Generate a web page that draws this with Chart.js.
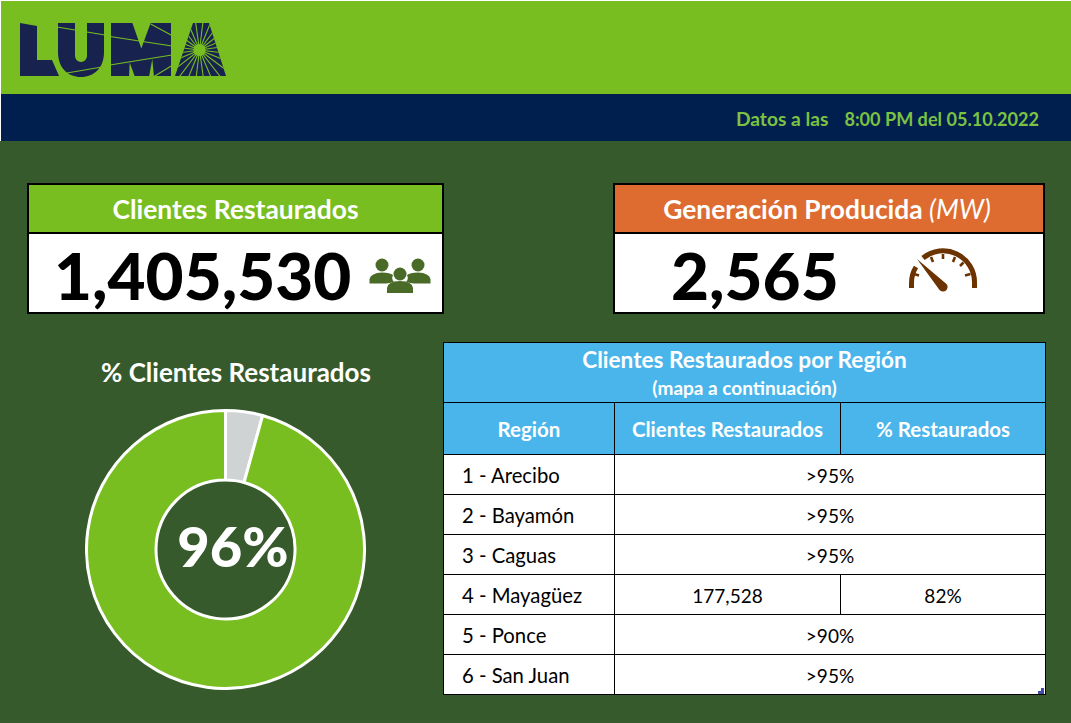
<!DOCTYPE html>
<html lang="es">
<head>
<meta charset="utf-8">
<title>LUMA - Clientes Restaurados</title>
<script src="https://cdn.jsdelivr.net/npm/chart.js@4"></script>
<style>
  html, body { margin: 0; padding: 0; background: #375a2c; }
  body { position: relative; width: 1071px; height: 723px; overflow: hidden; font-family: Lato, "Open Sans", sans-serif; font-weight: 700; }
  .abs { position: absolute; box-sizing: border-box; }
  #top { left: 0; top: 0; width: 1071px; height: 94px; background: #78be20; border: solid #fff; border-width: 1px 0 0 1px; }
  #navy { left: 0; top: 94px; width: 1071px; height: 47px; background: #001f4e; border-left: 1px solid #fff; }
  #fecha { right: 32px; top: 107px; color: #7cc242; font-size: 19.2px; white-space: pre; }
  #fecha span { font-size: 18.1px; margin-left: 16px; }
  .kpi { border: 2px solid #000; background: #fff; top: 183px; height: 131px; }
  .kpi .head { position: absolute; left: 0; right: 0; top: 0; height: 47px; border-bottom: 2px solid #000; color: #fff; font-size: 26.4px; line-height: 48px; text-align: center; }
  .kpi .num { position: absolute; top: 50px; color: #000; font-size: 65.6px; font-weight: 900; line-height: 80px; }
  #tit { left: 60px; width: 352px; top: 356px; color: #fff; font-size: 26px; line-height: 32px; text-align: center; }
  #wrap { left: 85px; top: 409px; width: 281px; height: 281px; }
  #centro { left: 77px; width: 312px; top: 512px; color: #fff; font-size: 56px; font-weight: 900; line-height: 68px; text-align: center; }
  table { left: 443px; top: 342px; width: 602px; height: 353px; border-collapse: collapse; table-layout: fixed; background: #fff; font-size: 19px; font-weight: 400; color: #000; }
  td, th { border: 1px solid #000; padding: 0; text-align: center; }
  td { padding-top: 1px; }
  th { background: #4ab5ea; color: #fff; font-weight: 700; font-size: 20.5px; }
  th.sup { font-size: 22.6px; line-height: 28px; padding-top: 3px; }
  th small { display: block; font-size: 19px; line-height: 28px; }
  td.reg { text-align: left; padding-left: 18px; font-size: 20.3px; }
  #deco { left: 0; top: 0; pointer-events: none; }
</style>
</head>
<body>
<div class="abs" id="top"></div>
<div class="abs" id="navy"></div>
<div class="abs" id="fecha">Datos a las<span>8:00 PM del 05.10.2022</span></div>

<div class="abs kpi" style="left:27px;width:417px">
  <div class="head" style="background:#78be20">Clientes Restaurados</div>
  <div class="num" style="left:25px" id="num1"></div>
</div>
<div class="abs kpi" style="left:613px;width:432px">
  <div class="head" style="background:#de6b2f;padding-right:4px">Generación Producida <i style="font-weight:400">(MW)</i></div>
  <div class="num" style="left:56px" id="num2"></div>
</div>

<div class="abs" id="tit">% Clientes Restaurados</div>
<div class="abs" id="wrap"><canvas id="dona" width="281" height="281"></canvas></div>
<div class="abs" id="centro"></div>

<table class="abs" id="tabla"></table>

<!-- logo e iconos, en coordenadas de la página -->
<svg class="abs" id="deco" width="1071" height="723" viewBox="0 0 1071 723">
  <defs>
    <clipPath id="letraA"><path d="M193 23 H209 L226 76 H175 Z"/></clipPath>
  </defs>
  <g fill="#17224f">
    <path d="M20 23 L37 26 L37 60 L52 60 L59 76 L20 76 Z"/>
    <path d="M58 23 H75 V56 A6 6 0 0 0 87 56 V23 H104 V52 C104 68 94 77 81 77 C68 77 58 68 58 52 Z"/>
    <path d="M111 23 H171 V76 H111 Z"/>
    <path d="M193 23 H209 L226 76 H175 Z"/>
  </g>
  <g stroke="#78be20" stroke-width="1.1" fill="none">
    <path d="M57 27 L105 35 M67 73 L102 67"/>
    <path d="M110 36.5 L172 46 M110 65 L172 55 M150.7 24 L172 35.5 M154 76.5 L172 65.5"/>
    <g id="rayos" clip-path="url(#letraA)"></g>
  </g>
  <path fill="#78be20" d="M132 22 L141.3 48.5 L151 22 Z M129.7 62.5 L129 77 L135 77 Z M152.3 59 L149 77 L154 77 Z"/>
  <circle cx="199.5" cy="50" r="6" fill="#78be20"/>

  <g fill="#4a6b28">
    <circle cx="382" cy="265" r="6.5"/><circle cx="418" cy="265" r="6.5"/><circle cx="400" cy="274" r="6.5"/>
    <path d="M369.5 283.5 V279 Q371 273 382 272.5 Q390 272.5 393 275 Q391 279 394 282 Q389 283 386 283.5 Z"/>
    <path d="M430.5 283.5 V279 Q429 273 418 272.5 Q410 272.5 407 275 Q409 279 406 282 Q411 283 414 283.5 Z"/>
    <path d="M387 293 V288 Q388 281 400 281 Q412 281 413 288 V293 Z"/>
  </g>

  <g fill="none" stroke="#6b3300" stroke-width="5">
    <path d="M911.5 288 V283 Q911.5 274 916 267"/>
    <path d="M923 258 A 31.5 31.5 0 0 1 974.5 283 V288"/>
  </g>
  <path stroke="#6b3300" stroke-width="2.6" d="M914 274 L919 275.5 M931 257 L933 262 M943 254 L943 259 M955 257 L953 262 M963.5 262.5 L960 266 M970.5 274 L965 275.5"/>
  <path fill="#6b3300" d="M917 259 L946.5 284 A4.5 4.5 0 0 1 939.5 290 Z"/>

  <path fill="#3d4fa8" d="M1041 688 H1044 V694 H1038 V691 H1041 Z"/>
</svg>

<script>
const segmentos = ['Sin restaurar', 'Restaurados'];
const valores = [4.3, 95.7];
const coloresDona = ['#d0d3d4', '#78be20'];

const clientesTotal = '1,405,530';
const generacionMw = '2,565';
const pctTotal = '96%';

const regiones = ['1 - Arecibo', '2 - Bayamón', '3 - Caguas', '4 - Mayagüez', '5 - Ponce', '6 - San Juan'];
const clientesRegion = [null, null, null, '177,528', null, null];
const pctRegion = ['>95%', '>95%', '>95%', '82%', '>90%', '>95%'];

document.getElementById('num1').textContent = clientesTotal;
document.getElementById('num2').textContent = generacionMw;
document.getElementById('centro').textContent = pctTotal;

// tabla de regiones
let filas = `<colgroup><col style="width:171px"><col style="width:226px"><col style="width:205px"></colgroup>
  <tr style="height:59px"><th class="sup" colspan="3">Clientes Restaurados por Región<small>(mapa a continuación)</small></th></tr>
  <tr style="height:52px"><th>Región</th><th>Clientes Restaurados</th><th>% Restaurados</th></tr>`;
regiones.forEach((r, i) => {
  const celdas = clientesRegion[i]
    ? `<td>${clientesRegion[i]}</td><td>${pctRegion[i]}</td>`
    : `<td colspan="2">${pctRegion[i]}</td>`;
  filas += `<tr style="height:40px"><td class="reg">${r}</td>${celdas}</tr>`;
});
document.getElementById('tabla').innerHTML = filas;

// rayos de la A del logo
const rayos = document.getElementById('rayos');
for (let ang = 0; ang < 360; ang += 15) {
  const l = document.createElementNS('http://www.w3.org/2000/svg', 'line');
  const rad = (ang + 7) * Math.PI / 180;
  l.setAttribute('x1', 199.5);
  l.setAttribute('y1', 50);
  l.setAttribute('x2', 199.5 + 70 * Math.cos(rad));
  l.setAttribute('y2', 50 + 70 * Math.sin(rad));
  rayos.appendChild(l);
}

new Chart(document.getElementById('dona'), {
  type: 'doughnut',
  data: { labels: segmentos, datasets: [{ data: valores, backgroundColor: coloresDona, borderColor: '#fff', borderWidth: 3 }] },
  options: {
    responsive: false,
    animation: false,
    cutout: '50%',
    plugins: { legend: { display: false }, tooltip: { enabled: false } }
  }
});
</script>
</body>
</html>
